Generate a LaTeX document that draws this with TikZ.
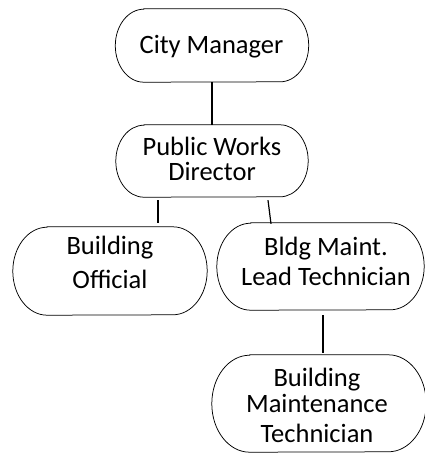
\documentclass[tikz,border=0pt]{standalone}
\usepackage{fontspec}
\setmainfont{Carlito}
\tikzset{
  outline/.style={draw=black, line width=0.75pt},
  conn/.style={draw=black, line width=1.2pt},
  txt/.style={align=center, inner sep=0pt, font=\fontsize{26.5}{25}\selectfont},
  frame/.style={rectangle, inner sep=0pt}
}
% name, cx, cy, w, h
\newcommand\stadnode[5]{%
  \node[frame, minimum width=#4pt, minimum height=#5pt] (#1) at (#2pt,#3pt) {};
  \draw[outline] ([xshift=0.39*#5pt]#1.north west) -- ([xshift=-0.39*#5pt]#1.north east)
    arc[start angle=90, end angle=-90, x radius=0.39*#5pt, y radius=0.5*#5pt]
    -- ([xshift=0.39*#5pt]#1.south west)
    arc[start angle=270, end angle=90, x radius=0.39*#5pt, y radius=0.5*#5pt] -- cycle;
}
\begin{document}
\begin{tikzpicture}
\useasboundingbox (0,0) rectangle (425pt,-456pt);
\stadnode{cm}{212}{-45.5}{193}{73}
\stadnode{pwd}{212}{-161}{192}{72}
\stadnode{bo}{110}{-271}{194}{88}
\stadnode{lt}{320.5}{-266.5}{207}{87}
\stadnode{bmt}{319}{-403.5}{214}{97}

\node[txt] (cmt) at (211.5pt,-46.5pt) {City Manager};
\node[txt] (pwdt) at (212pt,-158.5pt) {Public Works\\Director};
\node[txt] (bot) at (110pt,-262pt) {Building\\[9pt]Official};
\node[txt] (ltt) at (326pt,-261pt) {Bldg Maint.\\[5pt]Lead Technician};
\node[txt] (bmtt) at (317pt,-405pt) {Building\\[1pt]Maintenance\\[5pt]Technician};

\draw[conn] (cm.south) -- (pwd.north);
\draw[conn] ([xshift=-54pt,yshift=-3pt]pwd.south) -- ([xshift=48pt,yshift=4pt]bo.north);
\draw[conn] ([xshift=56pt,yshift=-3pt]pwd.south) -- ([xshift=-49.5pt,yshift=-1pt]lt.north);
\draw[conn] ([xshift=2.5pt,yshift=-5pt]lt.south) -- ([xshift=4pt,yshift=2pt]bmt.north);
\end{tikzpicture}
\end{document}
